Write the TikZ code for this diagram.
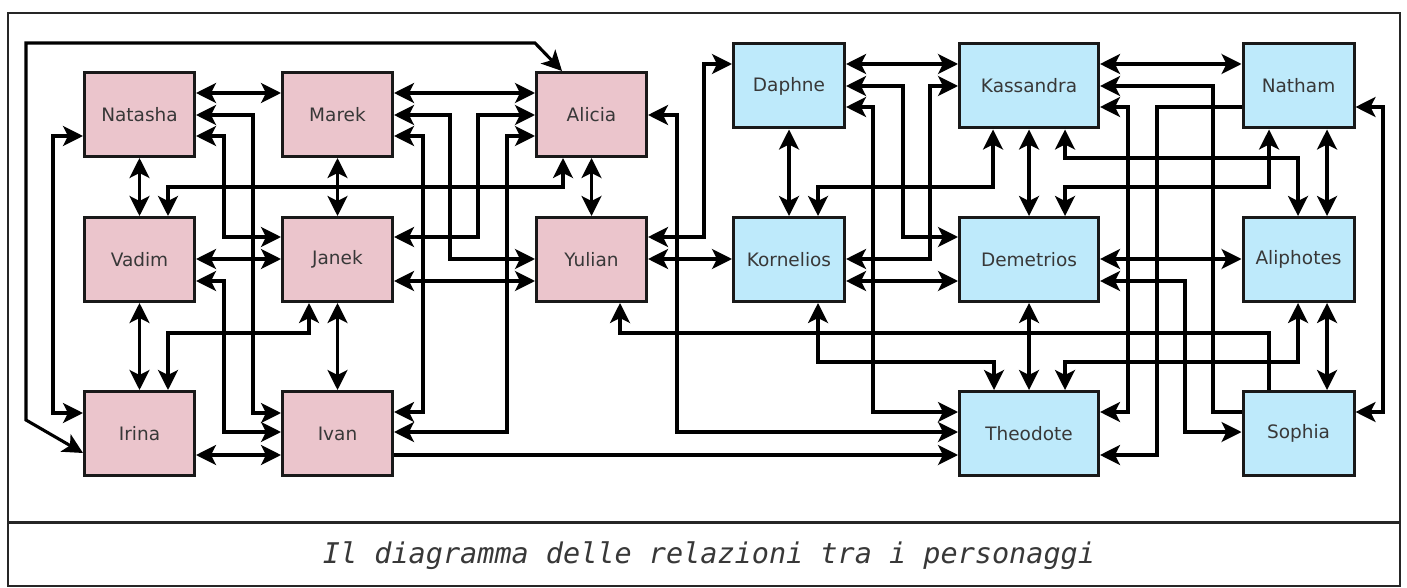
\documentclass[tikz,border=0pt]{standalone}
\usepackage{fontspec}
\setmainfont{DejaVu Sans}
\newfontfamily\capfont{DejaVu Sans Mono}
\usetikzlibrary{arrows.meta}
\definecolor{pinkbox}{HTML}{EBC5CC}
\definecolor{bluebox}{HTML}{BEEAFB}
\tikzset{ah/.tip={Stealth[length=20pt,width=20pt,inset=5pt]}}
\begin{document}
\begin{tikzpicture}[x=1pt,y=-1pt,
 pbox/.style={draw=black!90, line width=3pt, fill=pinkbox, minimum width=110pt, minimum height=84pt, inner sep=0pt, font=\fontsize{18.5}{21}\selectfont, text=black!78},
 bbox/.style={pbox, fill=bluebox, minimum width=111pt},
 wide/.style={minimum width=139pt},
 lk/.style={line width=3.1pt, draw=black},
 both/.style={lk, ah-ah},
 one/.style={lk, -ah}]
\useasboundingbox (0,0) rectangle (1407,588);
% frame
\draw[line width=2.6pt, draw=black!85] (8,13) rectangle (1400,586);
\draw[line width=3pt, draw=black!85] (8,522) -- (1400,522);
\node[font=\capfont\itshape\fontsize{28.5}{34}\selectfont, text=black!78, anchor=base] (cap) at (709,563) {Il diagramma delle relazioni tra i personaggi};
% nodes
\node[pbox] (Natasha) at (139.5,114.5) {Natasha};
\node[pbox] (Marek) at (337.5,114.5) {Marek};
\node[pbox] (Alicia) at (591.5,114.5) {Alicia};
\node[pbox] (Vadim) at (139.5,259.5) {Vadim};
\node[pbox] (Janek) at (337.5,259.5) {Janek};
\node[pbox] (Yulian) at (591.5,259.5) {Yulian};
\node[pbox] (Irina) at (139.5,433.5) {Irina};
\node[pbox] (Ivan) at (337.5,433.5) {Ivan};
\node[bbox] (Daphne) at (789,86) {Daphne};
\node[bbox,wide] (Kassandra) at (1029,86) {Kassandra};
\node[bbox] (Natham) at (1298.5,86) {Natham};
\node[bbox] (Kornelios) at (789,259.5) {Kornelios};
\node[bbox,wide] (Demetrios) at (1029,259.5) {Demetrios};
\node[bbox] (Aliphotes) at (1298.5,259.5) {Aliphotes};
\node[bbox,wide] (Theodote) at (1029,433.5) {Theodote};
\node[bbox] (Sophia) at (1298.5,433.5) {Sophia};
% pink connectors
\draw[both] (Natasha.east |- 0,93) -- (Marek.west |- 0,93);
\draw[both] (Natasha.east |- 0,115) -| (253,413) -- (Ivan.west |- 0,413);
\draw[both] (Natasha.east |- 0,136) -| (224,237) -- (Janek.west |- 0,237);
\draw[both] (Natasha.west |- 0,136) -| (53,413) -- (Irina.west |- 0,413);
\draw[both] (Irina.west |- 0,453) -- (26,420) -- (26,43) -- (535,43) -- (Alicia.north -| 562,0);
\draw[both] (Natasha.south) -- (Vadim.north);
\draw[both] (Vadim.north -| 168,0) |- (563,187) -- (Alicia.south -| 563,0);
\draw[both] (Marek.south) -- (Janek.north);
\draw[both] (Marek.east |- 0,93) -- (Alicia.west |- 0,93);
\draw[both] (Marek.east |- 0,115) -| (450,259) -- (Yulian.west |- 0,259);
\draw[both] (Marek.east |- 0,136) -| (423,412) -- (Ivan.east |- 0,412);
\draw[both] (Alicia.west |- 0,115) -| (478,237) -- (Janek.east |- 0,237);
\draw[both] (Alicia.west |- 0,136) -| (507,432) -- (Ivan.east |- 0,432);
\draw[both] (Janek.east |- 0,281) -- (Yulian.west |- 0,281);
\draw[both] (Alicia.east |- 0,115) -| (677,432) -- (Theodote.west |- 0,432);
\draw[both] (Alicia.south) -- (Yulian.north);
\draw[both] (Yulian.east |- 0,237) -| (704,64) -- (Daphne.west |- 0,64);
\draw[both] (Yulian.east |- 0,259) -- (Kornelios.west |- 0,259);
\draw[one] (Sophia.north -| 1269,0) |- (620,333) -- (Yulian.south -| 620,0);
\draw[one] (Ivan.east |- 0,455) -- (Theodote.west |- 0,455);
\draw[both] (Vadim.east |- 0,259) -- (Janek.west |- 0,259);
\draw[both] (Vadim.east |- 0,281) -| (224,432) -- (Ivan.west |- 0,432);
\draw[both] (Vadim.south) -- (Irina.north);
\draw[both] (Irina.north -| 168,0) |- (309,333) -- (Janek.south -| 309,0);
\draw[both] (Janek.south) -- (Ivan.north);
\draw[both] (Irina.east |- 0,455) -- (Ivan.west |- 0,455);
% blue connectors
\draw[both] (Daphne.east |- 0,64) -- (Kassandra.west |- 0,64);
\draw[both] (Daphne.east |- 0,86) -| (903,237) -- (Demetrios.west |- 0,237);
\draw[both] (Daphne.east |- 0,107) -| (873,412) -- (Theodote.west |- 0,412);
\draw[both] (Kassandra.west |- 0,86) -| (930,259) -- (Kornelios.east |- 0,259);
\draw[both] (Kornelios.east |- 0,281) -- (Demetrios.west |- 0,281);
\draw[both] (Daphne.south) -- (Kornelios.north);
\draw[both] (Kornelios.north -| 818,0) |- (993,187) -- (Kassandra.south -| 993,0);
\draw[both] (Kassandra.east |- 0,64) -- (Natham.west |- 0,64);
\draw[one] (Sophia.west |- 0,412) -| (1213,86) -- (Kassandra.east |- 0,86);
\draw[both] (Kassandra.east |- 0,107) -| (1128,412) -- (Theodote.east |- 0,412);
\draw[one] (Natham.west |- 0,107) -| (1157,455) -- (Theodote.east |- 0,455);
\draw[both] (Kassandra.south) -- (Demetrios.north);
\draw[both] (Kassandra.south -| 1065,0) |- (1298,158) -- (Aliphotes.north -| 1298,0);
\draw[both] (Natham.south -| 1269,0) |- (1065,187) -- (Demetrios.north -| 1065,0);
\draw[both] (Natham.south -| 1327,0) -- (Aliphotes.north -| 1327,0);
\draw[both] (Natham.east |- 0,107) -| (1383,412) -- (Sophia.east |- 0,412);
\draw[both] (Demetrios.east |- 0,259) -- (Aliphotes.west |- 0,259);
\draw[both] (Demetrios.east |- 0,281) -| (1185,432) -- (Sophia.west |- 0,432);
\draw[both] (Demetrios.south) -- (Theodote.north);
\draw[both] (Kornelios.south -| 818,0) |- (994,362) -- (Theodote.north -| 994,0);
\draw[both] (Aliphotes.south -| 1298,0) |- (1065,362) -- (Theodote.north -| 1065,0);
\draw[both] (Aliphotes.south -| 1327,0) -- (Sophia.north -| 1327,0);
\end{tikzpicture}
\end{document}
